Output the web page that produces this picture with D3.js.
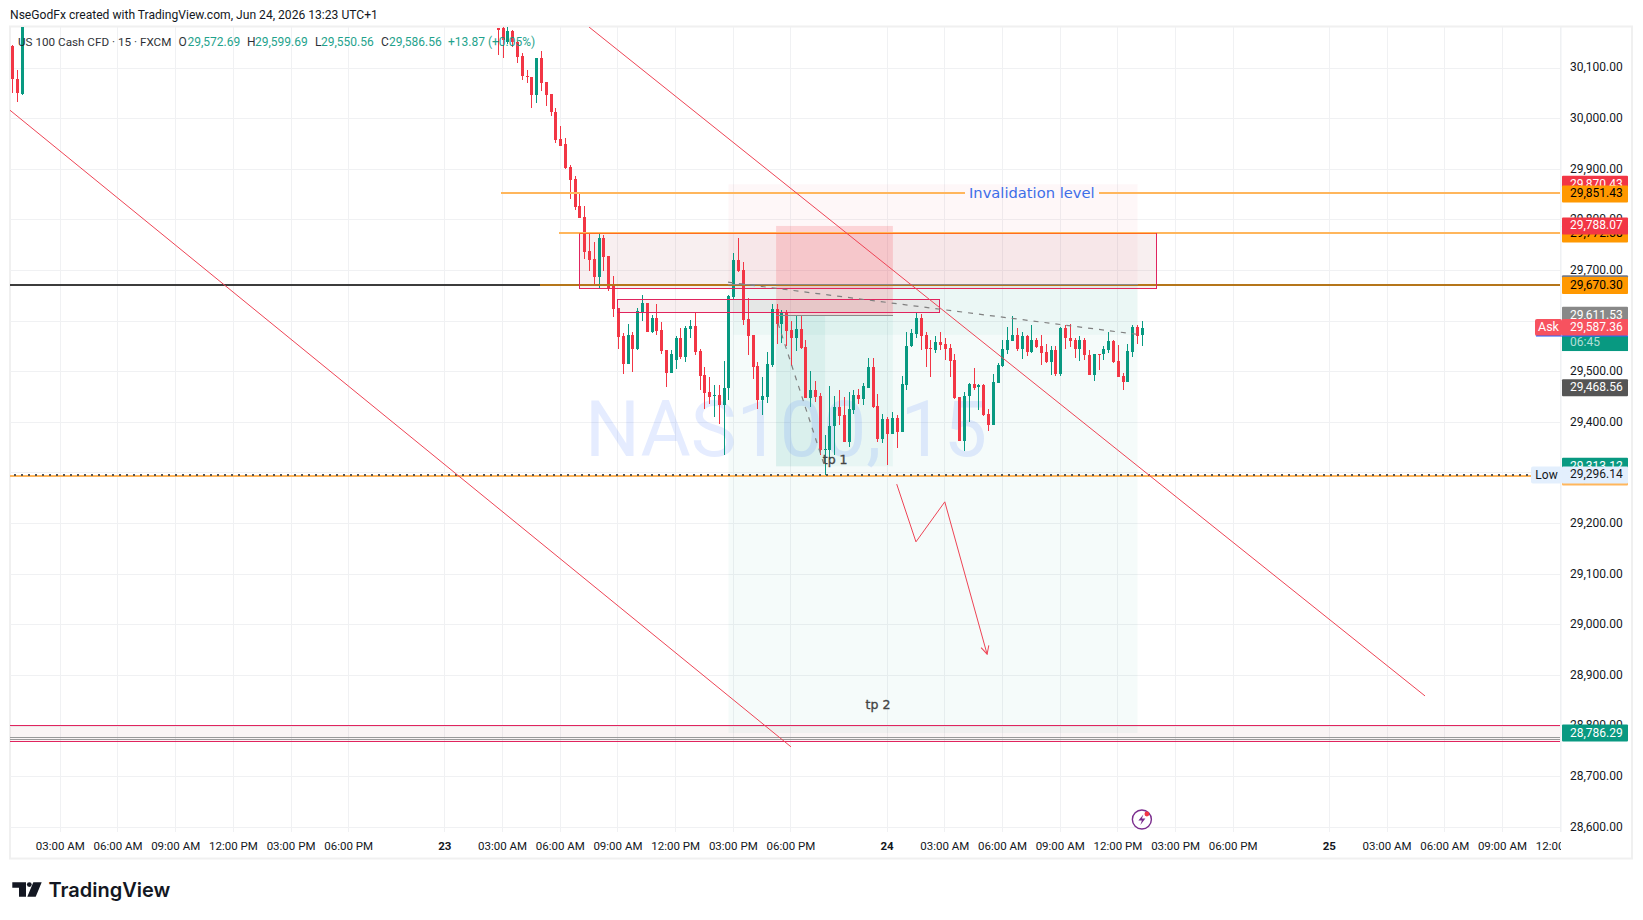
<!DOCTYPE html>
<html>
<head>
<meta charset="utf-8">
<script src="https://cdn.jsdelivr.net/npm/d3@7"></script>
<style>
html,body{margin:0;padding:0;background:#fff;overflow:hidden}
text{font-family:Roboto,sans-serif;fill:#131722}
</style>
</head>
<body>
<svg id="chart" width="1643" height="920"></svg>
<script>
// price ticks on the right, time ticks on the bottom (bar number -> label)
var priceTicks = [30100,30000,29900,29800,29700,29600,29500,29400,29300,29200,29100,29000,28900,28800,28700,28600];
var timeBars = [0,12,24,36,48,60,80,92,104,116,128,140,152,172,184,196,208,220,232,244,264,276,288,300,312];
var timeLabels = ["03:00 AM","06:00 AM","09:00 AM","12:00 PM","03:00 PM","06:00 PM","23",
  "03:00 AM","06:00 AM","09:00 AM","12:00 PM","03:00 PM","06:00 PM","24",
  "03:00 AM","06:00 AM","09:00 AM","12:00 PM","03:00 PM","06:00 PM","25",
  "03:00 AM","06:00 AM","09:00 AM","12:00 PM"];

// candles before the price ran off the top of the pane: o,h,l,c
var firstBar = -10;
var earlyCandles = [[30143,30146,30050,30078],[30079,30097,30033,30050],[30048,30240,30046,30240]];

// candles, bar 91 onwards: o,h,l,c
var candleBar = 91;
var candles = [
[30179,30180,30125,30176],[30179,30193,30120,30155],[30151,30181,30147,30174],[30174,30176,30141,30151],[30151,30153,30110,30122],
[30123,30130,30076,30084],[30085,30097,30070,30083],[30083,30083,30021,30046],[30047,30120,30031,30120],[30120,30133,30055,30070],
[30072,30072,30025,30047],[30048,30048,30005,30013],[30014,30022,29951,29957],[29959,29985,29947,29947],[29949,29962,29900,29903],
[29905,29908,29841,29878],[29880,29886,29819,29826],[29827,29851,29804,29804],[29806,29827,29722,29736],[29738,29773,29699,29720],
[29722,29757,29670,29688],[29688,29772,29664,29764],[29764,29770,29699,29726],[29728,29728,29660,29666],[29673,29689,29609,29624],
[29625,29626,29544,29569],[29571,29576,29496,29516],[29516,29595,29515,29573],[29573,29579,29500,29545],[29545,29625,29543,29620],
[29617,29651,29601,29636],[29636,29636,29578,29579],[29579,29612,29576,29606],[29606,29634,29573,29581],[29582,29598,29536,29541],
[29543,29543,29470,29498],[29498,29543,29498,29535],[29524,29570,29506,29567],[29567,29586,29526,29530],[29530,29590,29520,29586],
[29585,29602,29567,29590],[29590,29616,29533,29540],[29541,29545,29463,29492],[29494,29509,29427,29459],[29460,29490,29436,29451],
[29453,29474,29411,29455],[29454,29474,29396,29434],[29434,29521,29336,29468],[29467,29651,29444,29649],[29647,29734,29643,29720],
[29720,29764,29698,29699],[29701,29717,29593,29603],[29604,29645,29534,29571],[29573,29573,29485,29510],[29511,29520,29426,29444],
[29444,29490,29415,29452],[29451,29539,29439,29515],[29513,29633,29510,29624],[29624,29634,29555,29594],[29594,29622,29557,29618],
[29617,29623,29551,29581],[29582,29600,29511,29567],[29567,29611,29542,29584],[29584,29612,29544,29547],[29549,29563,29448,29449],
[29449,29501,29431,29464],[29464,29482,29440,29451],[29452,29459,29336,29346],[29346,29375,29296,29347],[29346,29472,29326,29393],
[29392,29452,29336,29431],[29431,29464,29395,29413],[29415,29450,29362,29362],[29362,29461,29351,29426],[29425,29463,29417,29454],
[29454,29466,29436,29446],[29446,29477,29434,29471],[29468,29528,29468,29509],[29509,29528,29429,29431],[29432,29456,29361,29367],
[29367,29416,29359,29407],[29407,29411,29316,29377],[29377,29421,29377,29409],[29409,29415,29350,29381],[29381,29492,29381,29475],
[29474,29579,29464,29551],[29550,29584,29548,29576],[29574,29617,29567,29606],[29606,29615,29543,29571],[29572,29579,29510,29545],
[29546,29563,29490,29545],[29543,29571,29538,29559],[29559,29578,29543,29553],[29555,29566,29523,29545],[29546,29555,29490,29522],
[29523,29536,29446,29448],[29451,29451,29363,29363],[29363,29461,29344,29453],[29452,29477,29401,29476],[29476,29507,29464,29467],
[29469,29475,29425,29474],[29473,29476,29413,29415],[29417,29426,29383,29395],[29395,29496,29395,29480],[29478,29518,29477,29513],
[29511,29563,29509,29544],[29543,29589,29535,29563],[29561,29611,29561,29572],[29572,29586,29542,29545],[29545,29579,29525,29571],
[29571,29572,29532,29540],[29540,29592,29538,29563],[29563,29567,29546,29548],[29551,29572,29513,29538],[29539,29555,29517,29520],
[29520,29550,29494,29543],[29543,29550,29492,29496],[29496,29589,29492,29587],[29586,29592,29545,29566],[29566,29594,29549,29561],
[29563,29566,29528,29545],[29545,29571,29521,29563],[29563,29566,29523,29533],[29534,29543,29494,29494],[29494,29536,29482,29536],
[29536,29536,29503,29535],[29535,29550,29523,29545],[29543,29578,29538,29561],[29561,29563,29518,29519],[29521,29553,29489,29490],
[29492,29498,29464,29480],[29480,29554,29480,29541],[29540,29592,29530,29588],[29588,29592,29555,29571],[29572.69,29599.69,29550.56,29586.56]
];

// drawings, all as [bar, price]
var channelLower = [[-10.5,30017],[152,28759]];
var channelUpper = [[110,30181],[283.9,28859.5]];
var dashTop = [[138.9,29677],[224,29574]];
var dashDrop = [[149.3,29596],[158.9,29316]];
var pathDown = [[174,29278],[178,29164],[184,29243],[192.8,28942]];

var invalidation = 29851.43, upperLevel = 29772.38, midLevel = 29670.30, lowLevel = 29296.14;
var levelLift = 1.8; // the drawn levels sit a pixel above their labels
var blackEndBar = 99.8, invalidationStart = 91.7, upperStart = 103.8, midStart = 99.8;
var boxBig = [108,228,29774,29665];
var boxSmall = [116,183,29643,29617.5];
var boxBottom = [28801.6,28770];
var greyBottom = [28778,28773];

// position tools: bars, stop, entry, target
var toolBig = [139,224.1,29870.43,29670.30,28786.29];
var toolBand = [140,224.1,29670.30,29573];
var toolSmall = [148.9,173.2,29788.07,29611.53,29313.12];
var toolSmallDark = [148.9,159.1];

var priceLabels = [
  [29870.43,"#f23645","#fff"],[29851.43,"#ff9800","#000"],
  [29772.38,"#ff9800","#000"],[29788.07,"#f23645","#fff"],
  [29674.00,"#787b86","#fff"],[29670.30,"#ff9800","#000"],
  [29611.53,"#888888","#fff"],[29587.36,"#f7525f","#fff"],
  [29468.56,"#555555","#fff"],[29313.12,"#089981","#fff"],
  [29292.00,"#ffb65c","#000"],[29296.14,"#e3effd","#131722"],
  [28786.29,"#089981","#fff"]
];
var askPrice = 29587.36, lowPrice = 29296.14;

var legendBits = [["US 100 Cash CFD · 15 · FXCM",18,"#131722",11.7],["O",178.5,"#131722",12],["29,572.69",187.5,"#089981",12],
  ["H",247,"#131722",12],["29,599.69",255,"#089981",12],["L",315,"#131722",12],["29,550.56",321,"#089981",12],
  ["C",381,"#131722",12],["29,586.56",389,"#089981",12],["+13.87 (+0.05%)",448,"#089981",12]];

var svg = d3.select("#chart");
var GREEN = "#089981", RED = "#f23645", LINE_RED = "#ee4455";

var x = d3.scaleLinear().domain([0,312]).range([60.3,1560.1]);
var y = d3.scaleLinear().domain([29900,28600]).range([169.3,827.3]);

var left = 10, right = 1561, top_ = 27, bottom = 832;

svg.append("defs").append("clipPath").attr("id","pane")
  .append("rect").attr("x",left).attr("y",top_).attr("width",right-left).attr("height",bottom-top_);
svg.select("defs").append("marker").attr("id","head").attr("viewBox","0 0 10 10")
  .attr("refX",9).attr("refY",5).attr("markerWidth",10).attr("markerHeight",10).attr("orient","auto")
  .append("path").attr("d","M1,1L9,5L1,9").attr("fill","none").attr("stroke",LINE_RED).attr("stroke-width",1);

// frame
svg.append("rect").attr("x",10).attr("y",26.5).attr("width",1622).attr("height",832)
  .attr("fill","#fff").attr("stroke","#f0f0f0").attr("stroke-width",2);

var pane = svg.append("g").attr("clip-path","url(#pane)");

// grid
pane.selectAll(".gh").data(priceTicks).enter().append("line")
  .attr("x1",left).attr("x2",right).attr("y1",d=>y(d)).attr("y2",d=>y(d))
  .attr("stroke","#f0f1f3").attr("stroke-width",1).attr("shape-rendering","crispEdges");
pane.selectAll(".gv").data(timeBars).enter().append("line")
  .attr("x1",d=>x(d)).attr("x2",d=>x(d)).attr("y1",top_).attr("y2",bottom)
  .attr("stroke","#f0f1f3").attr("stroke-width",1).attr("shape-rendering","crispEdges");

// axis divider
svg.append("line").attr("x1",right).attr("x2",right).attr("y1",top_).attr("y2",bottom).attr("stroke","#eef0f3");

function box(b0,b1,p0,p1,fill){
  return pane.append("rect").attr("x",x(b0)).attr("width",x(b1)-x(b0))
    .attr("y",y(p0)).attr("height",y(p1)-y(p0)).attr("fill",fill);
}

// position tools
box(toolBig[0],toolBig[1],toolBig[2],toolBig[3],"rgba(242,54,69,.04)");
box(toolBig[0],toolBig[1],toolBig[3],toolBig[4],"rgba(8,153,129,.04)");
box(toolBand[0],toolBand[1],toolBand[2],toolBand[3],"rgba(8,153,129,.04)");
box(boxBig[0],boxBig[1],boxBig[2],boxBig[3],"rgba(150,30,40,.07)");
box(boxSmall[0],boxSmall[1],boxSmall[2],boxSmall[3],"rgba(150,30,40,.07)");
box(toolSmall[0],toolSmall[1],toolSmall[2],toolSmall[3],"rgba(242,54,69,.18)");
box(toolSmall[0],toolSmall[1],toolSmall[3],toolSmall[4],"rgba(8,153,129,.05)");
box(toolSmallDark[0],toolSmallDark[1],toolSmall[3],toolSmall[4],"rgba(8,153,129,.06)");
box(-11,312,boxBottom[0],boxBottom[1],"rgba(150,30,40,.05)");

// watermark
pane.append("text").attr("x",786).attr("y",456).attr("text-anchor","middle")
  .attr("font-size",77).style("fill","rgba(41,98,255,.12)").text("NAS100, 15");

// candles
var allCandles = earlyCandles.map((c,i)=>({bar:firstBar+i,c:c}))
  .concat(candles.map((c,i)=>({bar:candleBar+i,c:c})));
var g = pane.selectAll(".candle").data(allCandles).enter().append("g")
  .attr("fill",d=>d.c[3]>=d.c[0]?GREEN:RED).attr("shape-rendering","crispEdges");
g.append("rect").attr("x",d=>Math.round(x(d.bar))).attr("width",1)
  .attr("y",d=>y(d.c[1])).attr("height",d=>y(d.c[2])-y(d.c[1]));
g.append("rect").attr("x",d=>Math.round(x(d.bar))-1).attr("width",3)
  .attr("y",d=>y(Math.max(d.c[0],d.c[3])))
  .attr("height",d=>Math.max(1,Math.abs(y(d.c[0])-y(d.c[3]))));

var line = d3.line().x(d=>x(d[0])).y(d=>y(d[1]));
function hline(b0,b1,p,col,w,dash){
  var l = pane.append("line").attr("x1",x(b0)).attr("x2",x(b1)).attr("y1",y(p)).attr("y2",y(p))
    .attr("stroke",col).attr("stroke-width",w).attr("shape-rendering","crispEdges");
  if(dash) l.attr("stroke-dasharray",dash);
  return l;
}

// horizontal levels
hline(invalidationStart,188.2,invalidation+levelLift,"#ffb65c",2);
hline(216,312,invalidation+levelLift,"#ffb65c",2);
hline(upperStart,312,upperLevel+levelLift,"#ffb65c",2);
hline(-11,blackEndBar,midLevel+levelLift,"#3c3c3c",2);
hline(midStart,312,midLevel+levelLift,"#b5761a",2);
hline(-11,312,lowLevel-2,"#ffb65c",2);
hline(-11,312,lowLevel,"#555",2,"2 5");
hline(-11,312,boxBottom[0],"#e0245e",1);
hline(-11,312,boxBottom[1],"#e0245e",1);
hline(-11,312,greyBottom[0],"#999",1);
hline(-11,312,greyBottom[1],"#999",1);
hline(toolBig[0],toolBig[1],toolBig[3]+3,"#8a8a8a",1);
hline(toolSmall[0],toolSmall[1],toolSmall[3],"#8a8a8a",1);

// box outlines
function outline(b,col){
  pane.append("rect").attr("x",x(b[0])).attr("width",x(b[1])-x(b[0]))
    .attr("y",y(b[2])).attr("height",y(b[3])-y(b[2]))
    .attr("fill","none").attr("stroke",col).attr("stroke-width",1).attr("shape-rendering","crispEdges");
}
outline(boxBig,"#e0245e");
outline(boxSmall,"#e0245e");
hline(boxBig[0],boxBig[1],boxBig[2],"#ff6d1f",1);

// trend lines
pane.append("path").attr("d",line(channelLower)).attr("fill","none").attr("stroke",LINE_RED).attr("stroke-width",1);
pane.append("path").attr("d",line(channelUpper)).attr("fill","none").attr("stroke",LINE_RED).attr("stroke-width",1);
pane.append("path").attr("d",line(dashTop)).attr("fill","none").attr("stroke","#808080").attr("stroke-width",1.2).attr("stroke-dasharray","5 6");
pane.append("path").attr("d",line(dashDrop)).attr("fill","none").attr("stroke","#808080").attr("stroke-width",1.2).attr("stroke-dasharray","5 6");
pane.append("path").attr("d",line(pathDown)).attr("fill","none").attr("stroke",LINE_RED).attr("stroke-width",1)
  .attr("marker-end","url(#head)");

// drawing labels
pane.append("text").attr("x",x(202.1)).attr("y",y(invalidation)+4).attr("text-anchor","middle")
  .attr("font-size",14.7).style("fill","#3d6ee8").style("font-family","'DejaVu Sans'").text("Invalidation level");
pane.selectAll(".tp").data([[161.2,29326,"tp 1"],[170.1,28842,"tp 2"]]).enter().append("text")
  .attr("x",d=>x(d[0])).attr("y",d=>y(d[1])+4).attr("text-anchor","middle")
  .attr("font-size",12.5).style("fill","#444").style("stroke","#444").style("stroke-width",.35)
  .style("font-family","'DejaVu Sans'").text(d=>d[2]);

// bolt icon under the last candle
var bolt = svg.append("g").attr("transform","translate("+x(225)+",819.5)");
bolt.append("circle").attr("r",9.5).attr("fill","#fff").attr("stroke","#7b2d8e").attr("stroke-width",1.4);
bolt.append("path").attr("d","M1.5,-5L-3.5,1H0L-1.5,5.5L3.5,-1H0Z").attr("fill","#7b2d8e");
bolt.append("circle").attr("cx",5).attr("cy",-5.5).attr("r",2.4).attr("fill","#f23645");

// price axis
var yAxis = d3.axisRight(y).tickValues(priceTicks).tickSize(0).tickPadding(0)
  .tickFormat(d3.format(",.2f"));
var yg = svg.append("g").attr("transform","translate(1570,-1)").call(yAxis);
yg.select(".domain").remove();
yg.selectAll("text").attr("font-size",12).style("font-family","Roboto");

// time axis
var xAxis = d3.axisBottom(x).tickValues(timeBars).tickSize(0).tickPadding(0)
  .tickFormat((d,i)=>timeLabels[i]);
var xClip = svg.select("defs").append("clipPath").attr("id","xaxis");
xClip.append("rect").attr("x",left).attr("y",832).attr("width",right-left).attr("height",26);
var xg = svg.append("g").attr("clip-path","url(#xaxis)").append("g").attr("transform","translate(-0.5,841.5)").call(xAxis);
xg.select(".domain").remove();
xg.selectAll("text").attr("font-size",11.5).attr("font-weight",d=>(d==80||d==172||d==264)?700:400).style("font-family","Roboto");

// price labels on the axis
function axisTag(p,col,txtcol){
  var yy = y(p);
  svg.append("rect").attr("x",1562).attr("y",yy-8.5).attr("width",66).attr("height",17).attr("rx",1).attr("fill",col);
  svg.append("text").attr("x",1570).attr("y",yy+3.5).attr("font-size",12).style("fill",txtcol).text(d3.format(",.2f")(p));
}
priceLabels.forEach(d=>axisTag(d[0],d[1],d[2]));

// ask pill + countdown
var askY = y(askPrice);
svg.append("rect").attr("x",1535).attr("y",askY-8.5).attr("width",27).attr("height",17).attr("rx",2).attr("fill","#f7525f");
svg.append("text").attr("x",1548.5).attr("y",askY+3.5).attr("text-anchor","middle").attr("font-size",12.5).style("fill","#fff").text("Ask");
svg.append("rect").attr("x",1562).attr("y",askY+8.5).attr("width",66).attr("height",15).attr("fill",GREEN);
svg.append("text").attr("x",1570).attr("y",askY+18.5).attr("font-size",12).style("fill","rgba(255,255,255,.7)").text("06:45");
svg.append("line").attr("x1",1536).attr("x2",1628).attr("y1",askY+8.5).attr("y2",askY+8.5).attr("stroke","#2962ff");

// low pill
var lowY = y(lowPrice);
svg.append("rect").attr("x",1531).attr("y",lowY-8.5).attr("width",31).attr("height",17).attr("rx",2).attr("fill","#e3effd");
svg.append("text").attr("x",1546.5).attr("y",lowY+4).attr("text-anchor","middle").attr("font-size",12).text("Low");

// legend over the pane
var lg = svg.append("g").style("opacity",.9);
legendBits.forEach(function(d){
  lg.append("text").attr("x",d[1]).attr("y",46).attr("font-size",d[3]).style("fill",d[2]).text(d[0]);
});

// top caption
svg.append("text").attr("x",10).attr("y",19).attr("font-size",12.1).text("NseGodFx created with TradingView.com, Jun 24, 2026 13:23 UTC+1");

// logo
var logo = svg.append("g").attr("fill","#131722");
logo.append("path").attr("d","M12.3,882.3H26V896.7H19V887.7H12.3Z");
logo.append("circle").attr("cx",29.3).attr("cy",884.6).attr("r",2.4);
logo.append("path").attr("d","M33.3,882.3H41.7L35.7,896.7H27.3Z");
svg.append("text").attr("x",48.5).attr("y",897).attr("font-size",20).attr("font-weight",600).style("font-family","Inter").text("TradingView");
</script>
</body>
</html>
